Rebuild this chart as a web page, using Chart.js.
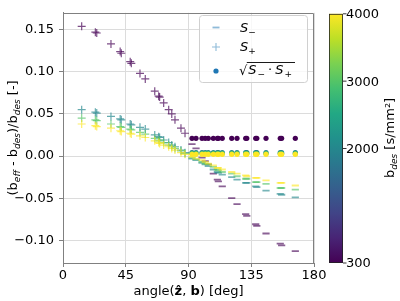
<!DOCTYPE html>
<html>
<head>
<meta charset="utf-8">
<script src="https://cdn.jsdelivr.net/npm/chart.js@4.4.1/dist/chart.umd.min.js"></script>
<style>
  html, body { margin: 0; padding: 0; background: #fff; }
  #wrap { width: 400px; height: 301px; }
</style>
</head>
<body>
<div id="wrap"><canvas id="chart" width="400" height="301"></canvas></div>
<script>
// b-values (colour scale) and gradient angles
const bValues = [300, 2000, 3000, 4000];
const anglePlus  = [13.4, 23.2, 24.2, 34.4, 41.0, 41.8, 48.2, 49.0, 55.2, 59.0, 65.8, 68.6, 69.3, 72.2, 75.8, 78.0, 80.3, 84.6, 87.5];
const angleMinus = [166.6, 156.8, 155.8, 145.6, 139.0, 138.2, 131.8, 131.0, 124.8, 121.0, 114.2, 111.4, 110.7, 107.8, 104.2, 102.0, 99.7, 95.4, 92.5];

// S+ relative error, one list per b
const sPlus300  = [0.154, 0.147, 0.146, 0.133, 0.124, 0.122, 0.112, 0.110, 0.098, 0.0915, 0.077, 0.071, 0.070, 0.063, 0.055, 0.050, 0.043, 0.033, 0.027];
const sPlus2000 = [0.055, 0.052, 0.051, 0.047, 0.044, 0.043, 0.038, 0.037, 0.034, 0.032, 0.025, 0.023, 0.022, 0.019, 0.016, 0.013, 0.011, 0.007, 0.004];
const sPlus3000 = [0.045, 0.043, 0.042, 0.038, 0.035, 0.034, 0.032, 0.031, 0.028, 0.026, 0.021, 0.019, 0.018, 0.016, 0.013, 0.011, 0.009, 0.006, 0.003];
const sPlus4000 = [0.038, 0.036, 0.035, 0.033, 0.030, 0.029, 0.027, 0.026, 0.024, 0.022, 0.018, 0.016, 0.015, 0.013, 0.011, 0.009, 0.007, 0.004, 0.002];

// S- relative error
const sMinus300  = [-0.113, -0.106, -0.104, -0.092, -0.083, -0.081, -0.071, -0.069, -0.057, -0.050, -0.036, -0.030, -0.028, -0.021, -0.010, -0.006, -0.002, 0.009, 0.014];
const sMinus2000 = [-0.049, -0.046, -0.045, -0.041, -0.037, -0.036, -0.032, -0.032, -0.028, -0.025, -0.022, -0.020, -0.019, -0.016, -0.012, -0.010, -0.008, -0.005, -0.003];
const sMinus3000 = [-0.040, -0.038, -0.038, -0.033, -0.031, -0.031, -0.027, -0.027, -0.024, -0.021, -0.019, -0.017, -0.016, -0.013, -0.010, -0.009, -0.007, -0.004, -0.002];
const sMinus4000 = [-0.035, -0.032, -0.032, -0.029, -0.026, -0.026, -0.024, -0.023, -0.021, -0.019, -0.016, -0.014, -0.014, -0.011, -0.009, -0.007, -0.005, -0.003, -0.001];

// sqrt(S- * S+)
const gm300  = [0.021, 0.021, 0.021, 0.021, 0.021, 0.021, 0.021, 0.021, 0.021, 0.021, 0.021, 0.021, 0.021, 0.021, 0.021, 0.021, 0.021, 0.021, 0.021];
const gm2000 = [0.004, 0.004, 0.004, 0.004, 0.004, 0.004, 0.004, 0.004, 0.004, 0.004, 0.004, 0.004, 0.004, 0.004, 0.004, 0.004, 0.004, 0.004, 0.004];
const gm3000 = [0.003, 0.003, 0.003, 0.003, 0.003, 0.003, 0.003, 0.003, 0.003, 0.003, 0.003, 0.003, 0.003, 0.003, 0.003, 0.003, 0.003, 0.003, 0.003];
const gm4000 = [0.002, 0.002, 0.002, 0.002, 0.002, 0.002, 0.002, 0.002, 0.002, 0.002, 0.002, 0.002, 0.002, 0.002, 0.002, 0.002, 0.002, 0.002, 0.002];

const xTicks = [0, 45, 90, 135, 180];
const yTicks = [-0.10, -0.05, 0, 0.05, 0.10, 0.15];
const yTickLabels = ['\u22120.10', '\u22120.05', '0.00', '0.05', '0.10', '0.15'];
const cbarTicks = [300, 2000, 3000, 4000];

const sPlusByB  = [sPlus300, sPlus2000, sPlus3000, sPlus4000];
const sMinusByB = [sMinus300, sMinus2000, sMinus3000, sMinus4000];
const gmByB     = [gm300, gm2000, gm3000, gm4000];

const FONT = 'DejaVu Sans';
const bMin = 300, bMax = 4000;

const viridisStops = ['#440154', '#482475', '#414487', '#355f8d', '#2a788e', '#21918c',
                      '#22a884', '#44bf70', '#7ad151', '#bddf26', '#fde725'];
function hexRgb(h) { return [1, 3, 5].map(i => parseInt(h.substr(i, 2), 16)); }
function viridis(t) {
  t = Math.max(0, Math.min(1, t));
  const n = viridisStops.length - 1;
  const i = Math.min(n - 1, Math.floor(t * n));
  const f = t * n - i;
  const a = hexRgb(viridisStops[i]), b = hexRgb(viridisStops[i + 1]);
  return a.map((v, k) => Math.round(v + (b[k] - v) * f));
}
const rgba = (c, a) => `rgba(${c[0]},${c[1]},${c[2]},${a})`;
const pts = (xs, ys) => xs.map((x, i) => ({ x: x, y: ys[i] }));

const datasets = [];
bValues.forEach((b, k) => {
  const c = viridis((b - bMin) / (bMax - bMin));
  datasets.push({
    label: 'S- ' + b, data: pts(angleMinus, sMinusByB[k]),
    pointStyle: 'line', pointRadius: 3.6, pointBorderWidth: 1.8,
    pointBorderColor: rgba(c, 0.62), pointBackgroundColor: rgba(c, 0.62),
    order: 100 - k * 3
  });
  datasets.push({
    label: 'S+ ' + b, data: pts(anglePlus, sPlusByB[k]),
    pointStyle: 'cross', pointRadius: 4, pointBorderWidth: 1.2,
    pointBorderColor: rgba(c, 0.7), pointBackgroundColor: rgba(c, 0.7),
    order: 99 - k * 3
  });
  datasets.push({
    label: 'gm ' + b, data: pts(angleMinus, gmByB[k]),
    pointStyle: 'circle', pointRadius: 2.6, pointBorderWidth: 0,
    pointBorderColor: rgba(c, 1), pointBackgroundColor: rgba(c, 1),
    order: 98 - k * 3
  });
});

// draws text made of pieces (normal / italic / subscript) around x,y
function rich(ctx, parts, x, y, align, rot) {
  ctx.save();
  ctx.translate(x, y);
  if (rot) ctx.rotate(rot);
  let w = 0;
  parts.forEach(p => { ctx.font = p.f; w += ctx.measureText(p.t).width + (p.sp || 0); });
  let cx = align === 'center' ? -w / 2 : 0;
  ctx.textBaseline = 'alphabetic';
  ctx.textAlign = 'left';
  ctx.fillStyle = '#000';
  parts.forEach(p => {
    ctx.font = p.f;
    ctx.fillText(p.t, cx, p.dy || 0);
    cx += ctx.measureText(p.t).width + (p.sp || 0);
  });
  ctx.restore();
  return w;
}

const N = `13px "${FONT}"`, B = `bold 13px "${FONT}"`, I = `italic 13px "${FONT}"`;
const SUB = `italic 9px "${FONT}"`, SUBN = `9px "${FONT}"`;

const decor = {
  id: 'decor',
  afterDraw(chart) {
    const ctx = chart.ctx, ca = chart.chartArea;
    ctx.save();
    // top and right spines
    ctx.strokeStyle = '#808080';
    ctx.lineWidth = 1;
    ctx.beginPath();
    ctx.moveTo(ca.left, Math.round(ca.top) + 0.5);
    ctx.lineTo(Math.round(ca.right) - 0.5, Math.round(ca.top) + 0.5);
    ctx.lineTo(Math.round(ca.right) - 0.5, ca.bottom);
    ctx.stroke();

    // colorbar
    const cx0 = 329, cx1 = 343, top = ca.top + 1, bot = ca.bottom;
    const g = ctx.createLinearGradient(0, bot, 0, top);
    viridisStops.forEach((s, i) => g.addColorStop(i / (viridisStops.length - 1), s));
    ctx.fillStyle = g;
    ctx.fillRect(cx0, top, cx1 - cx0, bot - top);
    ctx.strokeStyle = '#222';
    ctx.lineWidth = 0.8;
    ctx.strokeRect(cx0 + 0.5, top + 0.5, cx1 - cx0 - 1, bot - top - 1);
    ctx.fillStyle = '#000';
    ctx.font = N;
    ctx.textBaseline = 'middle';
    ctx.textAlign = 'left';
    cbarTicks.forEach(v => {
      const y = bot - (v - bMin) / (bMax - bMin) * (bot - top);
      ctx.beginPath();
      ctx.moveTo(cx1, y); ctx.lineTo(cx1 + 3.5, y);
      ctx.strokeStyle = '#000'; ctx.lineWidth = 0.8;
      ctx.stroke();
      ctx.fillText(String(v), cx1 + 3, y + 1);
    });
    rich(ctx, [{ t: 'b', f: N }, { t: 'des', f: SUB, dy: 3 }, { t: ' [s/mm\u00b2]', f: N }],
      394, (ca.top + ca.bottom) / 2, 'center', -Math.PI / 2);

    // axis titles
    rich(ctx, [{ t: 'angle(', f: N }, { t: '\u1e91', f: B }, { t: ', ', f: N }, { t: 'b', f: B }, { t: ') [deg]', f: N }],
      (ca.left + ca.right) / 2, 295, 'center', 0);
    rich(ctx, [{ t: '(b', f: N }, { t: 'eff', f: SUB, dy: 3 }, { t: ' - b', f: N }, { t: 'des', f: SUB, dy: 3 },
      { t: ')/b', f: N }, { t: 'des', f: SUB, dy: 3 }, { t: ' [-]', f: N }],
      17, (ca.top + ca.bottom) / 2, 'center', -Math.PI / 2);

    // legend
    const lx = 199.5, ly = 15.5, lw = 108, lh = 67, r = 3;
    ctx.beginPath();
    ctx.moveTo(lx + r, ly);
    ctx.arcTo(lx + lw, ly, lx + lw, ly + lh, r);
    ctx.arcTo(lx + lw, ly + lh, lx, ly + lh, r);
    ctx.arcTo(lx, ly + lh, lx, ly, r);
    ctx.arcTo(lx, ly, lx + lw, ly, r);
    ctx.closePath();
    ctx.fillStyle = 'rgba(255,255,255,0.8)';
    ctx.fill();
    ctx.strokeStyle = '#d0d0d0';
    ctx.lineWidth = 1;
    ctx.stroke();

    const c0 = 'rgba(31,119,180,0.5)';
    ctx.strokeStyle = c0;
    ctx.lineWidth = 1.8;
    ctx.beginPath(); ctx.moveTo(212.5, 27.5); ctx.lineTo(219.5, 27.5); ctx.stroke();
    ctx.lineWidth = 1.1;
    ctx.beginPath();
    ctx.moveTo(212, 47); ctx.lineTo(220, 47);
    ctx.moveTo(216, 43); ctx.lineTo(216, 51);
    ctx.stroke();
    ctx.fillStyle = '#1f77b4';
    ctx.beginPath(); ctx.arc(216, 71, 2.6, 0, Math.PI * 2); ctx.fill();

    rich(ctx, [{ t: 'S', f: I }, { t: '\u2212', f: SUBN, dy: 3 }], 240, 32, 'left', 0);
    rich(ctx, [{ t: 'S', f: I }, { t: '+', f: SUBN, dy: 3 }], 240, 51, 'left', 0);
    ctx.font = N;
    const rw = ctx.measureText('\u221a').width;
    rich(ctx, [{ t: '\u221a', f: N }], 239, 75, 'left', 0);
    const w = rich(ctx, [{ t: 'S', f: I, sp: 1 }, { t: '\u2212', f: SUBN, dy: 3, sp: 3 }, { t: '\u00b7', f: N, sp: 3 },
      { t: 'S', f: I, sp: 1 }, { t: '+', f: SUBN, dy: 3 }], 239 + rw + 1, 74, 'left', 0);
    ctx.strokeStyle = '#000';
    ctx.lineWidth = 0.9;
    ctx.beginPath();
    ctx.moveTo(239 + rw - 0.5, 62.5);
    ctx.lineTo(239 + rw + w + 4, 62.5);
    ctx.stroke();
    ctx.restore();
  }
};

const tickFont = { family: FONT, size: 13 };
new Chart(document.getElementById('chart'), {
  type: 'scatter',
  data: { datasets: datasets },
  options: {
    responsive: false,
    animation: false,
    events: [],
    layout: { padding: { left: 0, top: 8, right: 86, bottom: 0 } },
    plugins: { legend: { display: false }, tooltip: { enabled: false } },
    scales: {
      x: {
        type: 'linear', min: 0, max: 180,
        afterBuildTicks: s => { s.ticks = xTicks.map(v => ({ value: v })); },
        afterFit: s => { s.height = 38; },
        ticks: { font: tickFont, color: '#000', padding: 1, maxRotation: 0, callback: v => String(v) },
        grid: { color: '#dcdcdc', tickColor: '#808080', tickLength: 4 },
        border: { color: '#808080' }
      },
      y: {
        type: 'linear', min: -0.127, max: 0.170,
        afterBuildTicks: s => { s.ticks = yTicks.map(v => ({ value: v })); },
        afterFit: s => { s.width = 63; },
        ticks: {
          font: tickFont, color: '#000', padding: 5,
          callback: v => yTickLabels[yTicks.findIndex(t => Math.abs(t - v) < 1e-9)]
        },
        grid: { color: '#dcdcdc', tickColor: '#808080', tickLength: 4 },
        border: { color: '#808080' }
      }
    }
  },
  plugins: [decor]
});
</script>
</body>
</html>
